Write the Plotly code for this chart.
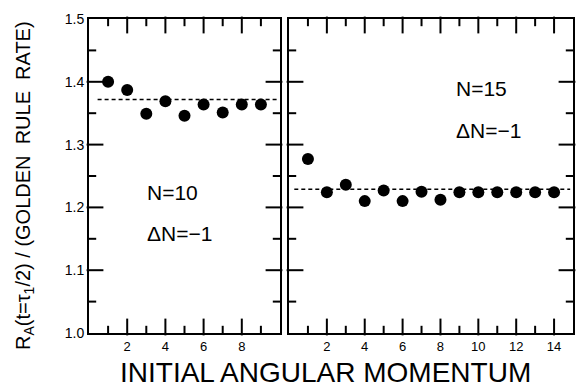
import plotly.graph_objects as go

# ---- data ----
L_left = [1, 2, 3, 4, 5, 6, 7, 8, 9]
R_left = [1.400, 1.387, 1.349, 1.369, 1.346, 1.364, 1.351, 1.364, 1.364]
avg_left = 1.372

L_right = [1, 2, 3, 4, 5, 6, 7, 8, 9, 10, 11, 12, 13, 14]
R_right = [1.277, 1.224, 1.236, 1.210, 1.227, 1.210, 1.225, 1.212,
           1.224, 1.224, 1.224, 1.224, 1.224, 1.224]
avg_right = 1.229

# tick values
xmajor_left = [2, 4, 6, 8]
xminor_left = [1, 3, 5, 7, 9]
xmajor_right = [2, 4, 6, 8, 10, 12, 14]
xminor_right = [1, 3, 5, 7, 9, 11, 13]
ymajor = [1.1, 1.2, 1.3, 1.4]
yminor = [1.05, 1.15, 1.25, 1.35, 1.45]
ylabels = [1.0, 1.1, 1.2, 1.3, 1.4, 1.5]

FONT = "Liberation Sans, Arial, Helvetica, sans-serif"
OFF = 8  # page body margin
W, H = 585 - OFF, 390 - OFF
LW = 2
MAJ, MIN = 12, 6  # tick lengths in pixels

XL = [89, 280]      # left panel pixel extent
XR = [289, 573]     # right panel pixel extent
YP = [19, 333]      # panel top/bottom pixels
YRANGE = [1.0, 1.5]
XRANGE_L = [0, 10]
XRANGE_R = [0, 15]


def px(x):
    return (x - OFF) / W


def py(y):
    return 1 - (y - OFF) / H


fig = go.Figure()

marker = dict(size=12, color="black")
fig.add_trace(go.Scatter(x=L_left, y=R_left, mode="markers", marker=marker,
                         xaxis="x", yaxis="y", showlegend=False))
fig.add_trace(go.Scatter(x=[0.45, 9.85], y=[avg_left, avg_left], mode="lines",
                         line=dict(color="black", width=1.5, dash="4px,3px"),
                         xaxis="x", yaxis="y", showlegend=False))
fig.add_trace(go.Scatter(x=L_right, y=R_right, mode="markers", marker=marker,
                         xaxis="x2", yaxis="y2", showlegend=False))
fig.add_trace(go.Scatter(x=[0.28, 14.85], y=[avg_right, avg_right], mode="lines",
                         line=dict(color="black", width=1.5, dash="4px,3px"),
                         xaxis="x2", yaxis="y2", showlegend=False))


# inside tick marks on all four sides, built from the tick value lists
def tick_traces(xr, yr, xrange, xpix, xmaj, xmin):
    ky = (YRANGE[1] - YRANGE[0]) / (YP[1] - YP[0])
    kx = (xrange[1] - xrange[0]) / (xpix[1] - xpix[0])
    out = []
    # vertical ticks (bottom and top) as line-ns markers
    for vals, ln in [(xmaj, MAJ), (xmin, MIN)]:
        xs, ys = [], []
        for v in vals:
            xs += [v, v]
            ys += [YRANGE[0] + ln / 2 * ky, YRANGE[1] - ln / 2 * ky]
        out.append(go.Scatter(x=xs, y=ys, mode="markers", xaxis=xr, yaxis=yr,
                              marker=dict(symbol="line-ns", size=ln, color="black",
                                          line=dict(width=LW, color="black")),
                              cliponaxis=False, hoverinfo="skip", showlegend=False))
    # horizontal ticks (left and right) as line-ew markers
    for vals, ln in [(ymajor, MAJ), (yminor, MIN)]:
        xs, ys = [], []
        for v in vals:
            xs += [xrange[0] + ln / 2 * kx, xrange[1] - ln / 2 * kx]
            ys += [v, v]
        out.append(go.Scatter(x=xs, y=ys, mode="markers", xaxis=xr, yaxis=yr,
                              marker=dict(symbol="line-ew", size=ln, color="black",
                                          line=dict(width=LW, color="black")),
                              cliponaxis=False, hoverinfo="skip", showlegend=False))
    return out


for t in tick_traces("x", "y", XRANGE_L, XL, xmajor_left, xminor_left):
    fig.add_trace(t)
for t in tick_traces("x2", "y2", XRANGE_R, XR, xmajor_right, xminor_right):
    fig.add_trace(t)

ydom = [py(YP[1]), py(YP[0])]


def axis(**kw):
    d = dict(showline=True, linecolor="black", linewidth=LW, mirror=True,
             ticks="", showgrid=False, zeroline=False, automargin=False,
             tickfont=dict(family=FONT, size=13, color="black"))
    d.update(kw)
    return d


fig.update_layout(
    width=W, height=H,
    margin=dict(l=0, r=0, t=0, b=0),
    plot_bgcolor="white", paper_bgcolor="white",
    font=dict(family=FONT, color="black"),
    showlegend=False,
    xaxis=axis(domain=[px(XL[0]), px(XL[1])], range=XRANGE_L, anchor="y",
               tickmode="array", tickvals=xmajor_left,
               ticktext=[str(v) for v in xmajor_left]),
    yaxis=axis(domain=ydom, range=YRANGE, anchor="x",
               tickmode="array", tickvals=ylabels,
               ticktext=["%.1f" % v for v in ylabels],
               tickfont=dict(family=FONT, size=14, color="black")),
    xaxis2=axis(domain=[px(XR[0]), px(XR[1])], range=XRANGE_R, anchor="y2",
                tickmode="array", tickvals=xmajor_right,
                ticktext=[str(v) for v in xmajor_right]),
    yaxis2=axis(domain=ydom, range=YRANGE, anchor="x2", showticklabels=False),
)

ann_font = dict(family=FONT, size=21, color="black")
fig.add_annotation(x=2.95, y=1.2245, xref="x", yref="y", text="N=10",
                   xanchor="left", yanchor="middle", showarrow=False, font=ann_font)
fig.add_annotation(x=2.95, y=1.159, xref="x", yref="y", text="\u0394N=\u22121",
                   xanchor="left", yanchor="middle", showarrow=False, font=ann_font)
fig.add_annotation(x=8.73, y=1.390, xref="x2", yref="y2", text="N=15",
                   xanchor="left", yanchor="middle", showarrow=False, font=ann_font)
fig.add_annotation(x=8.73, y=1.323, xref="x2", yref="y2", text="\u0394N=\u22121",
                   xanchor="left", yanchor="middle", showarrow=False, font=ann_font)

fig.add_annotation(x=px(325), y=py(372), xref="paper", yref="paper",
                   xanchor="center", yanchor="middle",
                   text="INITIAL ANGULAR MOMENTUM", showarrow=False,
                   font=dict(family=FONT, size=28, color="black"))
fig.add_annotation(x=px(24), y=py(186), xref="paper", yref="paper",
                   xanchor="center", yanchor="middle",
                   text="R<sub>A</sub>(t=\u03c4<sub>1</sub>/2) / (GOLDEN  RULE  RATE)",
                   textangle=-90, showarrow=False,
                   font=dict(family=FONT, size=20, color="black"))

fig.write_html("out.html")
